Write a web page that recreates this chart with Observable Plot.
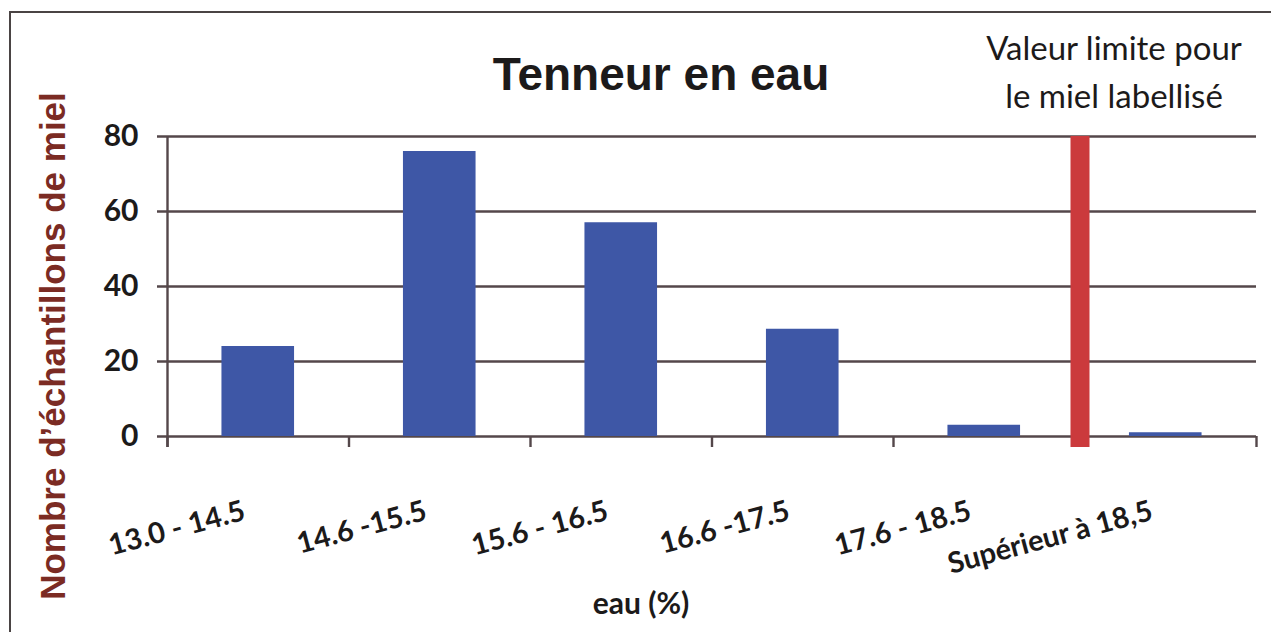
<!DOCTYPE html>
<html>
<head>
<meta charset="utf-8">
<script src="https://cdn.jsdelivr.net/npm/d3@7"></script>
<script src="https://cdn.jsdelivr.net/npm/@observablehq/plot@0.6"></script>
<style>
  html, body { margin: 0; padding: 0; background: #fff; }
  #wrap { position: relative; width: 1271px; height: 632px; overflow: hidden; background: #fff; }
  #frame { position: absolute; left: 9px; top: 11px; width: 1300px; height: 700px; border-left: 2px solid #4a4444; border-top: 2px solid #4a4444; }
  #chart { position: absolute; left: 0; top: 0; }
  .lbl { position: absolute; white-space: nowrap; line-height: 1; }
  #title { left: 661px; top: 47px; transform: translateX(-50%); font: bold 46px "Liberation Sans", Arial, sans-serif; color: #1c1a1a; }
  #note { left: 1114px; top: 23px; transform: translateX(-50%); font: 33px Lato, sans-serif; color: #1c1a1a; text-align: center; line-height: 48px; }
  #ytitle { left: -247px; top: 326px; width: 600px; text-align: center; transform: rotate(-90deg); font: bold 35px "Liberation Sans", Arial, sans-serif; color: #7b2b23; }
  #xtitle { left: 641px; top: 584px; transform: translateX(-50%); font: bold 30px Lato, sans-serif; color: #1c1a1a; }
</style>
</head>
<body>
<div id="wrap">
  <div id="frame"></div>
  <div id="chart"></div>
  <div class="lbl" id="title">Tenneur en eau</div>
  <div class="lbl" id="note">Valeur limite pour<br>le miel labellisé</div>
  <div class="lbl" id="ytitle">Nombre d’échantillons de miel</div>
  <div class="lbl" id="xtitle">eau (%)</div>
</div>
<script>
// ---- data ----
const categories = ["13.0 - 14.5", "14.6 -15.5", "15.6 - 16.5", "16.6 -17.5", "17.6 - 18.5", "Supérieur à 18,5"];
const counts = [24, 76, 57, 28.6, 3, 1];
const yTicks = [0, 20, 40, 60, 80];
const limitAfterCategory = "17.6 - 18.5"; // limite de 18,5 % après cette classe

// ---- derived ----
const table = categories.map((c, i) => ({category: c, index: i, count: counts[i]}));
const boundaries = d3.range(categories.length + 1).map(i => i - 0.5);
const limitPos = categories.indexOf(limitAfterCategory) + 0.5;

const gridColor = "#54474a";
const barColor = "#3e57a6";
const halfBar = 0.2;

const chart = Plot.plot({
  width: 1271,
  height: 632,
  marginLeft: 167,
  marginRight: 15,
  marginTop: 136,
  marginBottom: 196,
  x: {domain: [boundaries[0], boundaries[boundaries.length - 1]], axis: null},
  y: {domain: [0, 80], axis: null},
  style: {background: "transparent", overflow: "visible"},
  marks: [
    Plot.ruleY(yTicks, {stroke: gridColor, strokeWidth: 2.4, insetLeft: -10}),
    Plot.ruleX([boundaries[0]], {y1: 80, y2: 0, stroke: gridColor, strokeWidth: 2.4, insetBottom: -11}),
    Plot.ruleX(boundaries, {y1: 0, y2: 0, stroke: gridColor, strokeWidth: 2.4, insetBottom: -11}),
    Plot.rectY(table, {x1: d => d.index - halfBar, x2: d => d.index + halfBar, y: "count", fill: barColor}),
    Plot.ruleX([limitPos], {y1: 80, y2: 0, stroke: "#cb3a3c", strokeWidth: 19, dx: 5, insetBottom: -11}),
    Plot.axisY({ticks: yTicks, tickSize: 0, tickPadding: 29, fontSize: 30, fontWeight: "bold", fontFamily: "Lato, sans-serif", fill: "#1c1a1a", label: null}),
    Plot.text(table, {x: "index", y: 0, text: "category", textAnchor: "end", rotate: -15, dx: -14, dy: 74, fontSize: 29, fontWeight: "bold", fontFamily: "Lato, sans-serif", fill: "#1c1a1a"})
  ]
});
document.getElementById("chart").appendChild(chart);
</script>
</body>
</html>
